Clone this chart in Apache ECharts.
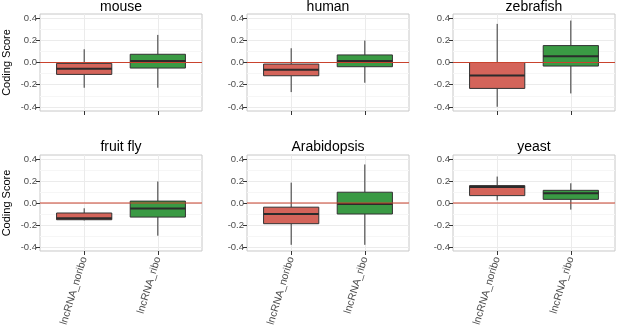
<!DOCTYPE html>
<html>
<head>
<meta charset="utf-8">
<script src="https://cdn.jsdelivr.net/npm/echarts@6/dist/echarts.min.js"></script>
<style>
  html, body { margin: 0; padding: 0; background: #fff; }
  #chart { width: 617px; height: 329px; }
</style>
</head>
<body>
<div id="chart"></div>
<script>
  // 每个面板：物种名 + 两组箱线（min, Q1, median, Q3, max）
  const species = ['mouse', 'human', 'zebrafish', 'fruit fly', 'Arabidopsis', 'yeast'];
  const categories = ['lncRNA_noribo', 'lncRNA_ribo'];
  const noriboStats = [
    [-0.227, -0.107, -0.056, -0.008, 0.119],
    [-0.266, -0.119, -0.065, -0.014, 0.128],
    [-0.398, -0.233, -0.116, 0.000, 0.347],
    [-0.158, -0.152, -0.138, -0.091, -0.048],
    [-0.380, -0.188, -0.100, -0.038, 0.185],
    [0.024, 0.067, 0.145, 0.158, 0.240]
  ];
  const riboStats = [
    [-0.227, -0.050, 0.014, 0.074, 0.248],
    [-0.182, -0.038, 0.014, 0.068, 0.197],
    [-0.278, -0.032, 0.056, 0.152, 0.377],
    [-0.297, -0.128, -0.051, 0.017, 0.195],
    [-0.380, -0.100, -0.008, 0.098, 0.350],
    [-0.060, 0.033, 0.088, 0.115, 0.179]
  ];
  const yTicks = [-0.4, -0.2, 0, 0.2, 0.4];
  const refValue = 0; // 红色参考线

  const boxColors = ['#d4645a', '#3a9a44'];
  const fontFamily = 'Liberation Sans, Arial, sans-serif';
  const colLeft = [40, 247, 453];
  const rowTop = [14, 155];
  const panelW = 162;
  const panelH = 97;
  const boxWidth = 0.75;

  function renderBox(params, api) {
    const x = api.value(0);
    const lo = api.coord([x, api.value(1)]);
    const q1 = api.coord([x, api.value(2)]);
    const med = api.coord([x, api.value(3)]);
    const q3 = api.coord([x, api.value(4)]);
    const hi = api.coord([x, api.value(5)]);
    const half = api.size([boxWidth, 0])[0] / 2;
    const fill = boxColors[api.value(6)];
    const children = [
      { type: 'line', shape: { x1: lo[0], y1: lo[1], x2: q1[0], y2: q1[1] }, style: { stroke: '#333', lineWidth: 1 } },
      { type: 'line', shape: { x1: q3[0], y1: q3[1], x2: hi[0], y2: hi[1] }, style: { stroke: '#333', lineWidth: 1 } },
      { type: 'rect', shape: { x: q3[0] - half, y: q3[1], width: half * 2, height: q1[1] - q3[1] }, style: { fill: fill, stroke: '#333', lineWidth: 1 } },
      { type: 'line', shape: { x1: med[0] - half, y1: med[1], x2: med[0] + half, y2: med[1] }, style: { stroke: '#2b2b2b', lineWidth: 2 } }
    ];
    // 最后一个箱子画完后再画参考线，保证在最上层
    if (params.dataIndex === params.dataInsideLength - 1) {
      const cs = params.coordSys;
      const y0 = api.coord([x, refValue])[1];
      children.push({
        type: 'line', z2: 100,
        shape: { x1: cs.x, y1: y0, x2: cs.x + cs.width, y2: y0 },
        style: { stroke: '#c9432e', lineWidth: 1.2 }
      });
    }
    return { type: 'group', children: children };
  }

  // 只显示 yTicks 上的刻度文字，其余（范围端点）留空
  function fmtTick(v) {
    const n = Number(v);
    const hit = yTicks.some(function (t) { return Math.abs(t - n) < 1e-6; });
    return hit ? n.toFixed(1) : '';
  }

  const grids = [], xAxes = [], yAxes = [], titles = [], series = [];
  species.forEach(function (name, i) {
    const col = i % 3, row = Math.floor(i / 3);
    grids.push({
      left: colLeft[col], top: rowTop[row], width: panelW, height: panelH,
      show: true, backgroundColor: '#fff', borderColor: '#c8c8c8', borderWidth: 1
    });
    titles.push({
      text: name, left: colLeft[col] + panelW / 2, top: row === 0 ? 0 : 140,
      textAlign: 'center', padding: 0,
      textStyle: { fontSize: 14, fontWeight: 'normal', color: '#000', fontFamily: fontFamily }
    });
    xAxes.push({
      type: 'value', gridIndex: i, min: 0.4, max: 2.6,
      axisLine: { show: false, onZero: false },
      axisTick: { show: true, customValues: [1, 2], length: 4, lineStyle: { color: '#333' } },
      axisLabel: {
        show: row === 1, customValues: [1, 2], rotate: 73, margin: 6,
        fontSize: 10.5, color: '#4d4d4d', fontFamily: fontFamily,
        formatter: function (v) { return categories[Math.round(v) - 1]; }
      },
      splitLine: { show: true, lineStyle: { color: '#ebebeb' } }
    });
    yAxes.push({
      type: 'value', gridIndex: i, min: -0.436, max: 0.436,
      name: col === 0 ? 'Coding Score' : '', nameLocation: 'middle', nameGap: 28,
      nameTextStyle: { fontSize: 11, color: '#000', fontFamily: fontFamily },
      axisLine: { show: false, onZero: false },
      axisTick: { show: true, customValues: yTicks, length: 4, lineStyle: { color: '#333' } },
      axisLabel: {
        margin: 3, fontSize: 9.5, color: '#4d4d4d', fontFamily: fontFamily,
        formatter: fmtTick
      },
      splitLine: { show: true, lineStyle: { color: '#ebebeb' } },
      minorTick: { show: false, splitNumber: 2 },
      minorSplitLine: { show: true, lineStyle: { color: '#f6f6f6' } }
    });
    series.push({
      type: 'custom', xAxisIndex: i, yAxisIndex: i, z: 2,
      renderItem: renderBox,
      encode: { x: 0, y: [1, 2, 3, 4, 5] },
      data: [
        [1].concat(noriboStats[i], [0]),
        [2].concat(riboStats[i], [1])
      ]
    });
  });

  const chart = echarts.init(document.getElementById('chart'));
  chart.setOption({
    animation: false,
    title: titles,
    grid: grids,
    xAxis: xAxes,
    yAxis: yAxes,
    series: series
  });
</script>
</body>
</html>
